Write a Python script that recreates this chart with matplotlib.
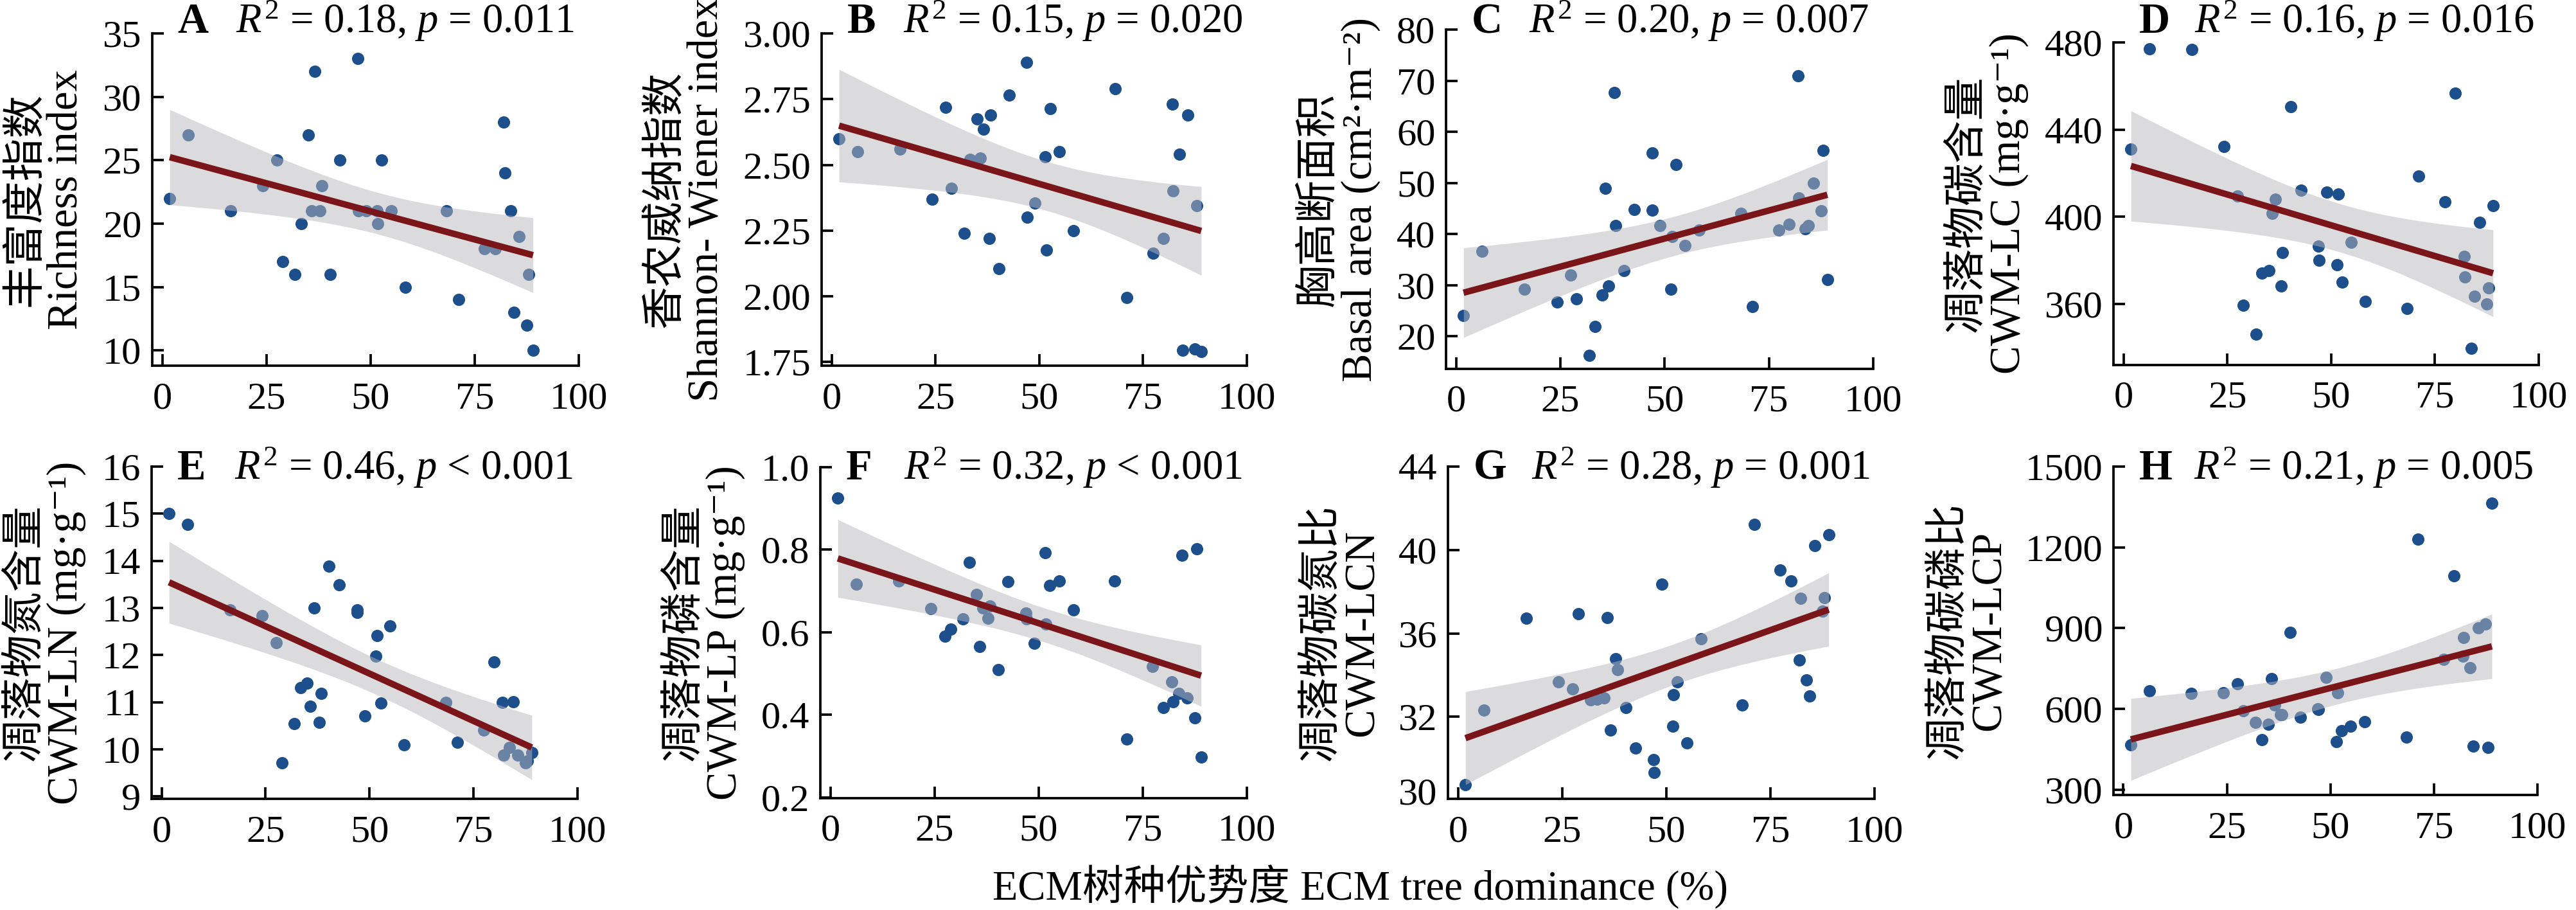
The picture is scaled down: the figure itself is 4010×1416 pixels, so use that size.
import numpy as np
import matplotlib
matplotlib.use('Agg')
import matplotlib.pyplot as plt
import matplotlib.transforms as mtransforms

plt.rcParams['font.family'] = ['Liberation Serif', 'Noto Sans CJK SC', 'DejaVu Serif']
plt.rcParams['mathtext.fontset'] = 'custom'
plt.rcParams['mathtext.rm'] = 'Liberation Serif'
plt.rcParams['mathtext.it'] = 'Liberation Serif:italic'
plt.rcParams['mathtext.bf'] = 'Liberation Serif:bold'

# ECM tree dominance (%) of the plots, shared by all panels
ecm = [1.8, 6.3, 16.4, 24.2, 27.5, 28.9, 31.9, 33.4, 35.0, 35.8, 36.6, 37.9, 38.3, 40.3, 42.7,
       47.0, 47.1, 48.9, 51.5, 51.8, 52.7, 54.9, 58.3, 68.3, 71.1, 77.4, 79.9, 82.0, 82.2, 83.7,
       84.5, 85.7, 87.5, 88.0, 89.0]

richness = [22, 27, 21, 23, 25, 17, 16, 20, 27, 21, 32, 21, 23, 16, 25, 33, 21, 21, 21, 20, 25,
            21, 15, 21, 14, 18, 18, 28, 24, 21, 13, 19, 12, 16, 10]
shannon = [2.60, 2.55, 2.56, 2.37, 2.72, 2.41, 2.24, 2.52, 2.675, 2.525, 2.635, 2.22, 2.69, 2.105,
           2.765, 2.89, 2.30, 2.355, 2.53, 2.175, 2.715, 2.55, 2.25, 2.79, 1.995, 2.165, 2.22, 2.73,
           2.40, 2.54, 1.795, 2.69, 1.80, 2.345, 1.79]
basal = [24.0, 36.6, 29.2, 26.7, 32.0, 27.3, 16.3, 21.9, 28.1, 48.9, 29.8, 67.7, 41.6, 32.8, 44.8,
         55.8, 44.6, 41.6, 29.2, 39.5, 53.6, 37.7, 40.8, 44.0, 25.8, 40.8, 41.9, 71.0, 47.1, 41.0,
         41.7, 49.9, 44.5, 56.4, 31.1]
litter_c = [431.2, 477.1, 476.7, 432.2, 409.6, 359.3, 346.1, 374.3, 375.3, 401.6, 408.2, 368.4,
            383.6, 450.5, 412.2, 386.6, 380.0, 411.4, 377.9, 410.4, 370.1, 388.4, 361.1, 358.0,
            418.7, 407.0, 456.8, 381.7, 372.5, 339.7, 363.6, 397.4, 359.9, 367.5, 405.0]
litter_n = [15.0, 14.77, 12.96, 12.83, 12.27, 9.71, 10.54, 11.31, 11.40, 10.91, 13.0, 10.57, 11.18,
            13.89, 13.49, 12.96, 12.90, 10.71, 11.98, 12.41, 10.98, 12.62, 10.10, 10.99, 10.15,
            10.41, 11.86, 10.99, 9.88, 10.04, 11.01, 9.88, 9.71, 9.75, 9.93]
litter_p = [0.926, 0.716, 0.725, 0.657, 0.590, 0.608, 0.632, 0.769, 0.691, 0.565, 0.659, 0.634,
            0.664, 0.510, 0.723, 0.646, 0.633, 0.574, 0.793, 0.620, 0.713, 0.725, 0.654, 0.724,
            0.342, 0.518, 0.418, 0.480, 0.432, 0.452, 0.786, 0.441, 0.393, 0.803, 0.298]
litter_cn = [28.74, 32.31, 36.74, 33.67, 33.33, 36.95, 32.80, 32.85, 32.91, 36.77, 31.38, 34.78,
             34.26, 32.45, 30.51, 29.95, 29.33, 38.37, 31.56, 33.05, 33.68, 30.76, 35.73, 32.58,
             41.24, 39.03, 38.51, 34.72, 37.67, 33.78, 33.01, 40.20, 37.07, 37.70, 40.74]
litter_cp = [466, 666, 657, 660, 694, 592, 549, 486, 543, 712, 615, 579, 578, 883, 569, 601, 598,
             717, 478, 660, 519, 535, 551, 495, 1230, 784, 1093, 795, 864, 752, 462, 901, 916,
             457, 1364]

letters = ['A', 'B', 'C', 'D', 'E', 'F', 'G', 'H']
series = [richness, shannon, basal, litter_c, litter_n, litter_p, litter_cn, litter_cp]
ylabels = ['丰富度指数\nRichness index',
           '香农威纳指数\nShannon- Wiener index',
           '胸高断面积\nBasal area (cm²·m⁻²)',
           '凋落物碳含量\nCWM-LC (mg·g⁻¹)',
           '凋落物氮含量\nCWM-LN (mg·g⁻¹)',
           '凋落物磷含量\nCWM-LP (mg·g⁻¹)',
           '凋落物碳氮比\nCWM-LCN',
           '凋落物碳磷比\nCWM-LCP']
r2 = ['0.18', '0.15', '0.20', '0.16', '0.46', '0.32', '0.28', '0.21']
pvals = ['= 0.011', '= 0.020', '= 0.007', '= 0.016', '< 0.001', '< 0.001', '= 0.001', '= 0.005']

yticks = [[10, 15, 20, 25, 30, 35],
          [1.75, 2.00, 2.25, 2.50, 2.75, 3.00],
          [20, 30, 40, 50, 60, 70, 80],
          [360, 400, 440, 480],
          [9, 10, 11, 12, 13, 14, 15, 16],
          [0.2, 0.4, 0.6, 0.8, 1.0],
          [28.45, 32, 36, 40, 44],
          [300, 600, 900, 1200, 1500]]
ytick_labels = [None,
                ['1.75', '2.00', '2.25', '2.50', '2.75', '3.00'],
                None, None, None,
                ['0.2', '0.4', '0.6', '0.8', '1.0'],
                ['30', '32', '36', '40', '44'],
                None]
ylims = [(8.8, 35), (1.736, 3.0), (13.6, 80), (332, 480),
         (8.95, 16), (0.198, 1.0), (28.07, 44), (280, 1500)]

# axes boxes in pixels of the 4011 x 1416 image: left, right, top, bottom
boxes = [(237, 901, 52, 569), (1279, 1941, 52, 569), (2251, 2916, 46, 574), (3290, 3952, 66, 568),
         (236, 899, 726, 1243), (1277, 1941, 727, 1242), (2254, 2918, 726, 1243), (3290, 3950, 726, 1237)]

W, H = 4011, 1416
DPI = 300
T_CRIT = 2.035  # t(0.975, df = 33)

POINT_COLOR = '#1c4f8c'
LINE_COLOR = '#7a1519'
BAND_COLOR = '#b8b8bd'


def fit_band(x, y, n_pts=200):
    slope, icept = np.polyfit(x, y, 1)
    xs = np.linspace(x.min(), x.max(), n_pts)
    fit = icept + slope * xs
    resid = y - (icept + slope * x)
    n = len(x)
    s = np.sqrt(np.sum(resid ** 2) / (n - 2))
    se = s * np.sqrt(1 / n + (xs - x.mean()) ** 2 / np.sum((x - x.mean()) ** 2))
    return xs, fit, T_CRIT * se


fig = plt.figure(figsize=(W / DPI, H / DPI), dpi=DPI)
x = np.array(ecm)

for i in range(8):
    left, right, top, bottom = boxes[i]
    ax = fig.add_axes([left / W, 1 - bottom / H, (right - left) / W, (bottom - top) / H])
    y = np.array(series[i])

    # points first, band on top so the covered points look paler
    ax.scatter(x, y, s=21, color=POINT_COLOR, linewidths=0, zorder=2)
    xs, fit, ci = fit_band(x, y)
    ax.fill_between(xs, fit - ci, fit + ci, color=BAND_COLOR, alpha=0.5, linewidth=0, zorder=3)
    ax.plot(xs, fit, color=LINE_COLOR, linewidth=2.4, solid_capstyle='butt', zorder=4)

    ax.set_xlim(-2.4, 100)
    ax.set_ylim(*ylims[i])
    ax.set_xticks([0, 25, 50, 75, 100])
    if ytick_labels[i] is None:
        ax.set_yticks(yticks[i])
    else:
        ax.set_yticks(yticks[i], ytick_labels[i])
    if letters[i] == 'G':
        # the bottom "30" label has no tick mark in the original
        ax.yaxis.get_major_ticks()[0].tick1line.set_visible(False)

    for side in ['top', 'right']:
        ax.spines[side].set_visible(False)
    for side in ['left', 'bottom']:
        ax.spines[side].set_linewidth(0.9)
    ax.tick_params(direction='in', length=4.3, width=0.9, labelsize=14.5)
    ax.tick_params(axis='y', pad=4)
    ax.tick_params(axis='x', pad=6)

    ax.set_ylabel(ylabels[i], fontsize=16, linespacing=1.05, labelpad=6)

    # panel letter and statistics
    trans = mtransforms.blended_transform_factory(ax.transAxes, fig.transFigure)
    ty = 1 - 51 / H if i < 4 else 1 - 746 / H
    ax.text(0.06, ty, letters[i], transform=trans, fontsize=16, fontweight='bold',
            ha='left', va='baseline')
    ax.text(0.99, ty, r'$R^2$ = %s, $p$ %s' % (r2[i], pvals[i]), transform=trans,
            fontsize=15.5, ha='right', va='baseline')

fig.text(2118 / W, 1 - 1380 / H, 'ECM树种优势度 ECM tree dominance (%)',
         fontsize=15.5, ha='center', va='center')

plt.savefig('out.png', dpi=DPI)
